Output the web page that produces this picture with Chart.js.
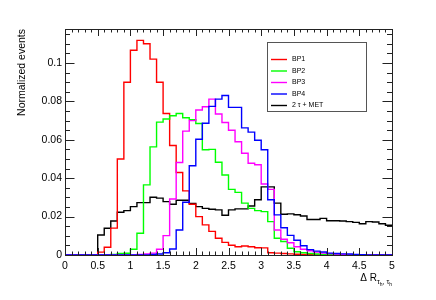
<!DOCTYPE html>
<html><head><meta charset="utf-8">
<script src="https://cdn.jsdelivr.net/npm/chart.js@4/dist/chart.umd.min.js"></script>
<style>html,body{margin:0;padding:0;background:#fff}canvas{display:block}</style>
</head><body>
<canvas id="c" width="436" height="300"></canvas>
<script>
// Bin low edges of the histogram (bin width 0.1), upper end of last bin
const binLowEdges = [0,0.1,0.2,0.3,0.4,0.5,0.6,0.7,0.8,0.9,1,1.1,1.2,1.3,1.4,1.5,1.6,1.7,1.8,1.9,2,2.1,2.2,2.3,2.4,2.5,2.6,2.7,2.8,2.9,3,3.1,3.2,3.3,3.4,3.5,3.6,3.7,3.8,3.9,4,4.1,4.2,4.3,4.4,4.5,4.6,4.7,4.8,4.9];
const xUpperEdge = 5;

const seriesNames = ['BP1','BP2','BP3','BP4','2 \u03C4 + MET'];

const bp1 = [0,0,0,0,0,0.0015,0.004,0.014,0.050,0.090,0.1066,0.1118,0.110,0.102,0.090,0.0737,0.057,0.043,0.0334,0.0264,0.020,0.0157,0.0123,0.0087,0.0066,0.0051,0.0043,0.0047,0.0043,0.0038,0.0037,0.0012,0.001,0.0008,0.0006,0.0004,0.0003,0.0002,0,0,0,0,0,0,0,0,0,0,0,0];
const bp2 = [0,0,0,0,0,0,0,0.0003,0.0008,0.0009,0.003,0.0113,0.0365,0.0563,0.0692,0.0708,0.0725,0.0737,0.0715,0.0705,0.0685,0.0548,0.0550,0.0483,0.0417,0.0342,0.0326,0.027,0.0243,0.0231,0.0226,0.0174,0.0087,0.007,0.0035,0.0017,0.0012,0.0008,0.0005,0.0003,0.0002,0,0,0,0,0,0,0,0,0];
const bp3 = [0,0,0,0,0,0,0,0,0,0,0,0.0003,0.0005,0.001,0.003,0.0101,0.0292,0.0482,0.0645,0.070,0.0755,0.0772,0.0812,0.0734,0.069,0.065,0.059,0.053,0.0478,0.047,0.037,0.0342,0.013,0.0082,0.0064,0.0043,0.003,0.0022,0.0015,0.001,0.0007,0.0005,0.0003,0,0,0,0,0,0,0];
const bp4 = [0,0,0,0,0,0,0,0,0,0,0,0,0,0.0003,0.0005,0.0012,0.0031,0.013,0.0275,0.0465,0.0603,0.0686,0.0774,0.0812,0.0831,0.0769,0.0769,0.0662,0.064,0.0598,0.0548,0.0288,0.0209,0.0142,0.0102,0.0077,0.0048,0.0028,0.002,0.0016,0.001,0.0008,0.0006,0.0005,0.0003,0.0002,0,0,0,0];
const bkg = [0,0,0,0,0,0.0104,0.0139,0.0177,0.0223,0.0231,0.0252,0.0273,0.0273,0.0301,0.0296,0.0278,0.0264,0.0285,0.0285,0.0268,0.0252,0.0243,0.0238,0.0235,0.0207,0.0235,0.024,0.024,0.0255,0.0288,0.0355,0.0355,0.027,0.0212,0.0214,0.021,0.0203,0.0185,0.0185,0.0191,0.0178,0.0178,0.0177,0.0174,0.017,0.0163,0.0174,0.0172,0.0163,0.0155];

const xTickLabels = ['0','0.5','1','1.5','2','2.5','3','3.5','4','4.5','5'];
const yTickLabels = ['0','0.02','0.04','0.06','0.08','0.1'];
const yMax = 0.1177;

const seriesValues = [bp1,bp2,bp3,bp4,bkg];
const seriesColors = ['#ff0000','#00ff00','#ff00ff','#0000ff','#000000'];
const drawOrder = [3,2,1,0,4];

function histPoints(vals){
  const pts = binLowEdges.map((x,i)=>({x:x,y:vals[i]}));
  pts.push({x:xUpperEdge,y:vals[vals.length-1]});
  return pts;
}

const FONT = "'Liberation Sans', Arial, Helvetica, sans-serif";

const rootFrame = {
  id:'rootFrame',
  afterDatasetsDraw(chart){
    const ctx = chart.ctx, a = chart.chartArea;
    const xs = chart.scales.x, ys = chart.scales.y;
    ctx.save();
    ctx.strokeStyle = '#222';
    ctx.lineWidth = 1;
    ctx.strokeRect(Math.round(a.left)+0.5, Math.round(a.top)+0.5, Math.round(a.right-a.left), Math.round(a.bottom-a.top));
    ctx.beginPath();
    for (let i=0;i<=50;i++){
      const v = i/10;
      const px = Math.round(xs.getPixelForValue(v))+0.5;
      const len = (i%5===0)?7:3.5;
      ctx.moveTo(px,a.bottom); ctx.lineTo(px,a.bottom-len);
      ctx.moveTo(px,a.top); ctx.lineTo(px,a.top+len);
    }
    for (let i=0;i*0.005<=yMax;i++){
      const v = i*0.005;
      const py = Math.round(ys.getPixelForValue(v))+0.5;
      const len = (i%4===0)?9.5:5;
      ctx.moveTo(a.left,py); ctx.lineTo(a.left+len,py);
      ctx.moveTo(a.right,py); ctx.lineTo(a.right-len,py);
    }
    ctx.stroke();
    ctx.restore();
  },
  afterDraw(chart){
    const ctx = chart.ctx, a = chart.chartArea;
    ctx.save();
    ctx.fillStyle = '#000';
    ctx.textBaseline = 'alphabetic';
    const parts = [
      {t:'\u0394 R', f:'10px '+FONT, dy:0},
      {t:'\u03C4', f:'7px '+FONT, dy:3},
      {t:'h', f:'5px '+FONT, dy:5},
      {t:', ', f:'7px '+FONT, dy:3},
      {t:'\u03C4', f:'7px '+FONT, dy:3},
      {t:'h', f:'5px '+FONT, dy:5}
    ];
    let total = 0;
    parts.forEach(p=>{ctx.font=p.f; p.w=ctx.measureText(p.t).width; total+=p.w;});
    let x = a.right - total;
    const base = 281;
    parts.forEach(p=>{ctx.font=p.f; ctx.fillText(p.t,x,base+p.dy); x+=p.w;});

    const L=267.5,T=42.5,R=366.5,B=111.5;
    ctx.fillStyle='#fff';
    ctx.fillRect(L,T,R-L,B-T);
    ctx.strokeStyle='#555';
    ctx.lineWidth=1;
    ctx.strokeRect(L,T,R-L,B-T);
    const rowY=[59.5,71,82.5,94,105.5];
    chart.data.datasets.forEach((ds,i)=>{
      ctx.strokeStyle=ds.borderColor;
      ctx.lineWidth=1.4;
      ctx.beginPath(); ctx.moveTo(271,rowY[i]); ctx.lineTo(287,rowY[i]); ctx.stroke();
      ctx.fillStyle='#000';
      ctx.font='7px '+FONT;
      ctx.textBaseline='middle';
      ctx.fillText(ds.label,292,rowY[i]);
    });
    ctx.restore();
  }
};

new Chart(document.getElementById('c'),{
  type:'line',
  data:{
    datasets: seriesValues.map((vals,i)=>({
      label: seriesNames[i],
      data: histPoints(vals),
      borderColor: seriesColors[i],
      backgroundColor: seriesColors[i],
      borderWidth: 1.4,
      pointRadius: 0,
      stepped: 'before',
      fill: false,
      tension: 0,
      order: drawOrder[i]
    }))
  },
  options:{
    responsive:false,
    animation:false,
    devicePixelRatio:1,
    layout:{padding:{top:29,right:44,left:0,bottom:0}},
    plugins:{legend:{display:false},tooltip:{enabled:false}},
    scales:{
      x:{
        type:'linear', min:0, max:5,
        grid:{display:false,drawTicks:false},
        border:{display:false},
        ticks:{stepSize:0.5, padding:5, maxRotation:0, autoSkip:false, color:'#000',
          font:{family:FONT,size:10.5},
          callback:(v)=>{const k=Math.round(v/0.5); return Math.abs(v-k*0.5)<1e-6 ? xTickLabels[k] : '';}},
        afterFit:(s)=>{s.height=45;}
      },
      y:{
        type:'linear', min:0, max:yMax,
        grid:{display:false,drawTicks:false},
        border:{display:false},
        ticks:{stepSize:0.02, padding:3, includeBounds:false, color:'#000',
          font:{family:FONT,size:10.5},
          callback:(v)=>{const k=Math.round(v/0.02); return Math.abs(v-k*0.02)<1e-6 ? yTickLabels[k] : '';}},
        title:{display:true, text:'Normalized events', align:'end', color:'#000',
          font:{family:FONT,size:10.5}, padding:{top:16,bottom:0}},
        afterFit:(s)=>{s.width=65;}
      }
    }
  },
  plugins:[rootFrame]
});
</script>
</body></html>
